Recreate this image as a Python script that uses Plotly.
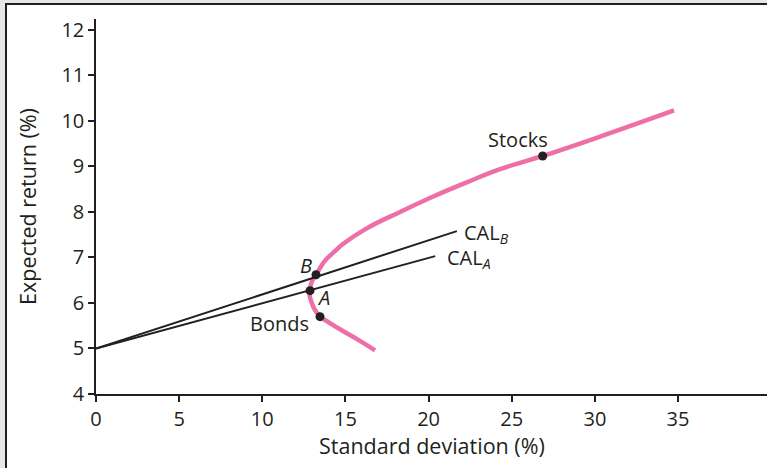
import plotly.graph_objects as go

# Efficient frontier (std dev %, expected return %)
frontier_sd = [16.78, 15.77, 14.77, 13.97, 13.47, 13.13, 12.93, 12.85, 12.87, 12.97,
               13.23, 13.75, 14.37, 14.87, 16.28, 18.28, 20.28, 22.29, 24.29, 26.86,
               30.11, 34.76]
frontier_er = [4.96, 5.19, 5.40, 5.58, 5.70, 5.87, 6.05, 6.16, 6.27, 6.46,
               6.62, 6.92, 7.14, 7.30, 7.64, 8.00, 8.34, 8.65, 8.94, 9.23,
               9.63, 10.23]

# Capital allocation lines (start at risk-free rate, end point)
cal_b_sd = [0, 21.7]
cal_b_er = [5.0, 7.58]
cal_a_sd = [0, 20.4]
cal_a_er = [5.0, 7.03]

# Labelled points
point_names = ["Stocks", "Bonds", "B", "A"]
point_sd = [26.86, 13.47, 13.23, 12.87]
point_er = [9.23, 5.70, 6.62, 6.27]

x_ticks = [0, 5, 10, 15, 20, 25, 30, 35]
y_ticks = [4, 5, 6, 7, 8, 9, 10, 11, 12]
x_title = "Standard deviation (%)"
y_title = "Expected return (%)"

INK = "#231f20"
PINK = "#EE6FA8"
FONT = "Open Sans"
FS = 20
FS_TITLE = 21.5

fig = go.Figure()
fig.add_trace(go.Scatter(x=frontier_sd, y=frontier_er, mode="lines",
                         line=dict(color=PINK, width=4.5, shape="spline", smoothing=1.1),
                         hoverinfo="skip", showlegend=False))
fig.add_trace(go.Scatter(x=cal_b_sd, y=cal_b_er, mode="lines",
                         line=dict(color=INK, width=2), showlegend=False))
fig.add_trace(go.Scatter(x=cal_a_sd, y=cal_a_er, mode="lines",
                         line=dict(color=INK, width=2), showlegend=False))
fig.add_trace(go.Scatter(x=point_sd, y=point_er, mode="markers",
                         marker=dict(color=INK, size=9), showlegend=False))

tf = dict(family=FONT, size=FS, color=INK)
# label offsets (pixels) relative to each point
offsets = {
    "Stocks": dict(xshift=-25, yshift=16, xanchor="center", text="Stocks"),
    "Bonds": dict(xshift=-9, yshift=-7, xanchor="right", text="Bonds"),
    "B": dict(xshift=-10, yshift=9, xanchor="center", text="<i>B</i>"),
    "A": dict(xshift=13, yshift=-7, xanchor="center", text="<i>A</i>"),
}
for name, sx, sy in zip(point_names, point_sd, point_er):
    o = offsets[name]
    fig.add_annotation(x=sx, y=sy, text=o["text"], showarrow=False, font=tf,
                       xanchor=o["xanchor"], yanchor="middle",
                       xshift=o["xshift"], yshift=o["yshift"])

fig.add_annotation(x=cal_b_sd[1], y=cal_b_er[1], text="CAL<sub><i>B</i></sub>",
                   showarrow=False, font=tf, xanchor="left", yanchor="middle",
                   xshift=5, yshift=-2)
fig.add_annotation(x=cal_a_sd[1], y=cal_a_er[1], text="CAL<sub><i>A</i></sub>",
                   showarrow=False, font=tf, xanchor="left", yanchor="middle",
                   xshift=10, yshift=-2)

# x-axis title placed as paper annotation
fig.add_annotation(xref="paper", yref="paper", x=0.5, y=-51/375, text=x_title,
                   showarrow=False, xanchor="center", yanchor="middle",
                   font=dict(family=FONT, size=FS_TITLE, color=INK))

# frame: gray page with white panel outlined top/left
fig.add_shape(type="rect", xref="paper", yref="paper",
              x0=-90/671, x1=1.2, y0=-0.5, y1=390/375,
              fillcolor="white", line=dict(color=INK, width=2), layer="below")

fig.update_layout(
    width=767, height=468,
    margin=dict(l=96, r=0, t=19, b=74, autoexpand=False),
    paper_bgcolor="#e6e7e8",
    plot_bgcolor="rgba(0,0,0,0)",
    font=dict(family=FONT, size=FS, color=INK),
    showlegend=False,
)
fig.update_xaxes(range=[0, 40.35], tickvals=x_ticks, ticks="outside", ticklen=6,
                 tickwidth=1.5, tickcolor=INK, showline=True, linecolor=INK,
                 linewidth=1.5, showgrid=False, zeroline=False, automargin=False,
                 tickfont=dict(family=FONT, size=FS, color=INK))
fig.update_yaxes(range=[4, 12.24], tickvals=y_ticks, ticks="outside", ticklen=6,
                 tickwidth=1.5, tickcolor=INK, showline=True, linecolor=INK,
                 linewidth=1.5, showgrid=False, zeroline=False, automargin=False,
                 tickfont=dict(family=FONT, size=FS, color=INK),
                 title=dict(text=y_title, standoff=19,
                            font=dict(family=FONT, size=FS_TITLE, color=INK)))

fig.write_html("out.html",
               config={"displayModeBar": False},
               post_script="document.body.style.margin='0px';"
                           "document.body.style.background='#e6e7e8';")
